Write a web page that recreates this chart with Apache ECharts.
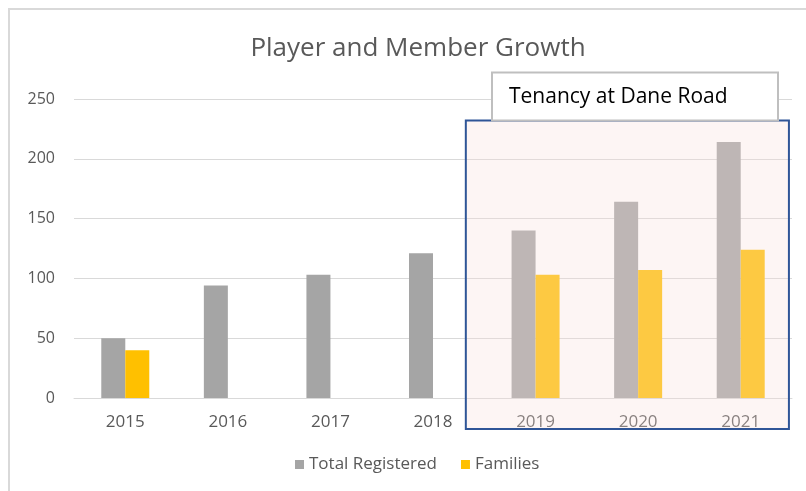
<!DOCTYPE html>
<html>
<head>
<meta charset="utf-8">
<script src="https://cdn.jsdelivr.net/npm/echarts@6/dist/echarts.min.js"></script>
<style>
  html, body { margin: 0; padding: 0; background: #fff; }
  #chart { width: 806px; height: 491px; }
</style>
</head>
<body>
<div id="chart"></div>
<script>
var years = ["2015", "2016", "2017", "2018", "2019", "2020", "2021"];
var totalRegistered = [50, 94, 103, 121, 140, 164, 214];
var families = [40, null, null, null, 103, 107, 124];
var yTicks = [0, 50, 100, 150, 200, 250];
var noteText = "Tenancy at Dane Road";

var chartDom = document.getElementById("chart");
var myChart = echarts.init(chartDom);
var option;

option = {
  animation: false,
  title: {
    text: "Player and Member Growth",
    left: 413,
    textAlign: "center",
    top: 31,
    textStyle: {
      fontFamily: "Open Sans",
      fontSize: 26,
      fontWeight: "normal",
      color: "#595959",
    },
  },
  legend: {
    data: ["Total Registered", "Families"],
    left: 290,
    top: 451,
    itemWidth: 9,
    itemHeight: 9,
    itemGap: 24,
    icon: "rect",
    textStyle: {
      fontFamily: "Open Sans",
      fontSize: 17,
      color: "#595959",
    },
  },
  grid: {
    left: 74,
    right: 14,
    top: 99,
    bottom: 93,
  },
  xAxis: {
    type: "category",
    data: years,
    axisTick: { show: false },
    axisLine: { lineStyle: { color: "#D9D9D9", width: 1 } },
    axisLabel: {
      margin: 16,
      fontFamily: "Open Sans",
      fontSize: 17,
      color: "#595959",
    },
  },
  yAxis: {
    type: "value",
    min: yTicks[0],
    max: yTicks[yTicks.length - 1],
    interval: 50,
    axisLine: { show: false },
    axisTick: { show: false },
    axisLabel: {
      margin: 19,
      fontFamily: "Open Sans",
      fontSize: 16,
      color: "#595959",
    },
    splitLine: { lineStyle: { color: "#D9D9D9", width: 1 } },
  },
  series: [
    {
      name: "Total Registered",
      type: "bar",
      data: totalRegistered,
      barWidth: 24,
      barGap: "0%",
      itemStyle: { color: "#A5A5A5" },
    },
    {
      name: "Families",
      type: "bar",
      data: families,
      barWidth: 24,
      itemStyle: { color: "#FFC000" },
    },
  ],
};

option && myChart.setOption(option);

// annotation box over 2019-2021, placed from the axis scales
var x19 = myChart.convertToPixel({ xAxisIndex: 0 }, "2019");
var x20 = myChart.convertToPixel({ xAxisIndex: 0 }, "2020");
var x21 = myChart.convertToPixel({ xAxisIndex: 0 }, "2021");
var cw = x20 - x19;
var y0 = myChart.convertToPixel({ yAxisIndex: 0 }, 0);
var yTop = myChart.convertToPixel({ yAxisIndex: 0 }, 232);
var boxLeft = x19 - 0.68 * cw;
var boxRight = x21 + 0.47 * cw;

myChart.setOption({
  graphic: [
    {
      type: "rect",
      z: 0,
      silent: true,
      shape: { x: 9, y: 9, width: 820, height: 500 },
      style: { fill: "none", stroke: "#D9D9D9", lineWidth: 2 },
    },
    {
      type: "rect",
      z: 100,
      silent: true,
      shape: {
        x: boxLeft,
        y: yTop,
        width: boxRight - boxLeft,
        height: y0 + 31 - yTop,
      },
      style: {
        fill: "rgba(248,222,218,0.3)",
        stroke: "#2F5597",
        lineWidth: 2,
      },
    },
    {
      type: "rect",
      z: 101,
      silent: true,
      shape: { x: 492, y: yTop - 48, width: 286, height: 48 },
      style: { fill: "#FFFFFF", stroke: "#BFBFBF", lineWidth: 2 },
    },
    {
      type: "text",
      z: 102,
      silent: true,
      x: 509,
      y: yTop - 24,
      style: {
        text: noteText,
        fontFamily: "Open Sans",
        fontSize: 21,
        fill: "#000000",
        verticalAlign: "middle",
      },
    },
  ],
});
</script>
</body>
</html>
